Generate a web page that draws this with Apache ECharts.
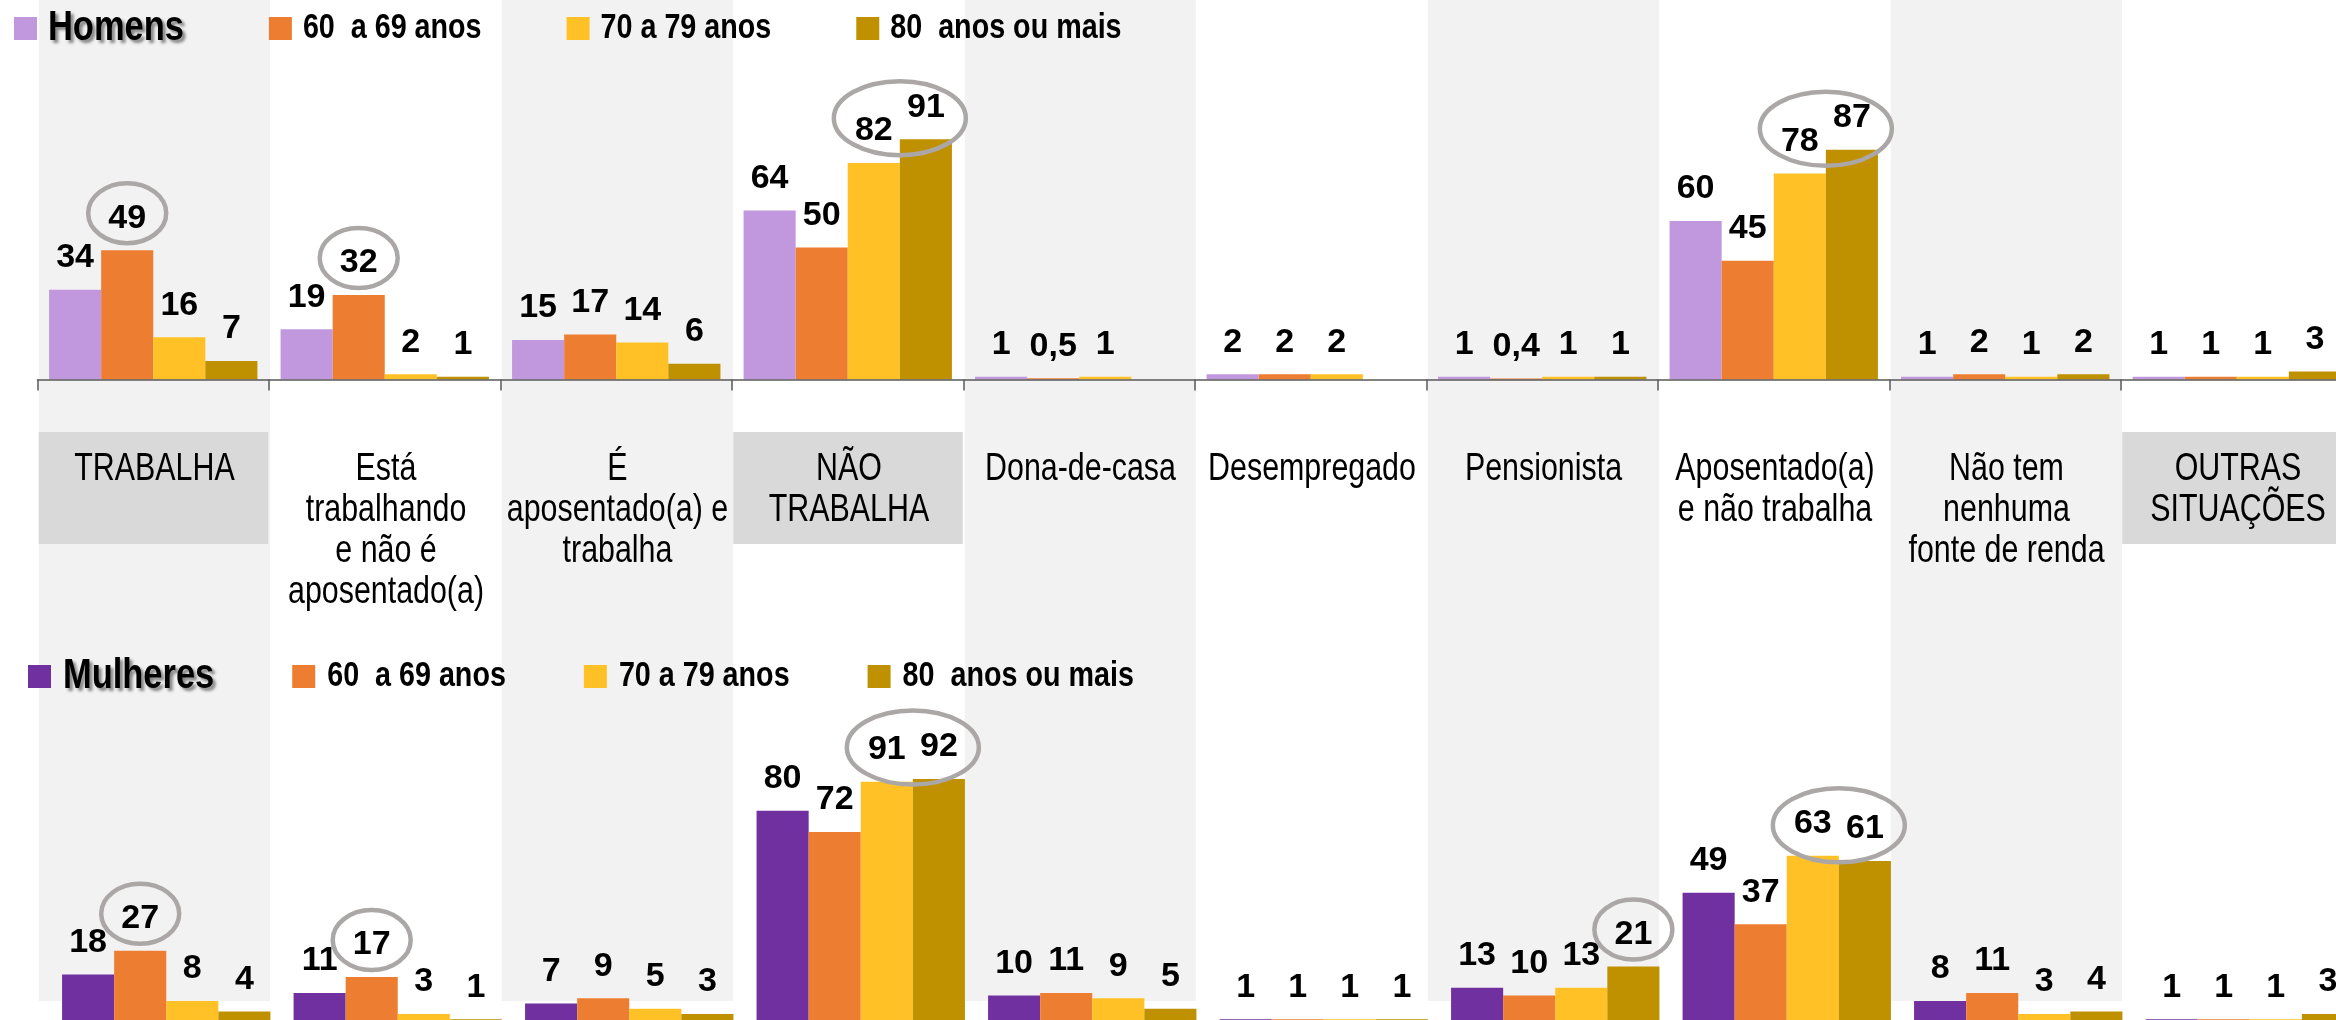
<!DOCTYPE html>
<html>
<head>
<meta charset="utf-8">
<title>Situação de trabalho por sexo e idade</title>
<script src="https://cdn.jsdelivr.net/npm/echarts@6/dist/echarts.min.js"></script>
<style>
  html, body { margin: 0; padding: 0; background: #fff; }
  #chart { width: 2336px; height: 1020px; }
</style>
</head>
<body>
<div id="chart"></div>
<script>
// categorias
const categories = [
  "TRABALHA",
  "Está\ntrabalhando\ne não é\naposentado(a)",
  "É\naposentado(a) e\ntrabalha",
  "NÃO\nTRABALHA",
  "Dona-de-casa",
  "Desempregado",
  "Pensionista",
  "Aposentado(a)\ne não trabalha",
  "Não tem\nnenhuma\nfonte de renda",
  "OUTRAS\nSITUAÇÕES"
];
const ageGroups = ["60  a 69 anos", "70 a 79 anos", "80  anos ou mais"];

// Homens (%)
const homensTotal = [34, 19, 15, 64, 1, 2, 1, 60, 1, 1];
const homens60a69 = [49, 32, 17, 50, 0.5, 2, 0.4, 45, 2, 1];
const homens70a79 = [16, 2, 14, 82, 1, 2, 1, 78, 1, 1];
const homens80mais = [7, 1, 6, 91, null, null, 1, 87, 2, 3];

// Mulheres (%)
const mulheresTotal = [18, 11, 7, 80, 10, 1, 13, 49, 8, 1];
const mulheres60a69 = [27, 17, 9, 72, 11, 1, 10, 37, 11, 1];
const mulheres70a79 = [8, 3, 5, 91, 9, 1, 13, 63, 3, 1];
const mulheres80mais = [4, 1, 3, 92, 5, 1, 21, 61, 4, 3];

// destaques (círculos): [categoria, primeira barra, última barra]
const destaquesHomens = [[0, 1, 1], [1, 1, 1], [3, 2, 3], [7, 2, 3]];
const destaquesMulheres = [[0, 1, 1], [1, 1, 1], [3, 2, 3], [6, 3, 3], [7, 2, 3]];
// categorias-resumo com fundo cinza
const categoriasResumo = [0, 3, 9];

const COLORS = ["#ed7d31", "#ffc125", "#bf9000"];
const SANS = "Liberation Sans";
// sem fonte "Narrow" instalada: texto estreitado na horizontal
const NARROW_X = 0.8;
const LEGEND_X = 0.82;

const homensData = [homensTotal, homens60a69, homens70a79, homens80mais];
const mulheresData = [mulheresTotal, mulheres60a69, mulheres70a79, mulheres80mais];

const ctx = document.createElement("canvas").getContext("2d");
const legendWidth = (text, size) => {
  ctx.font = `bold ${size}px "${SANS}"`;
  return ctx.measureText(text).width * LEGEND_X;
};

const makeBar = (name, data, color, idx) => ({
  name,
  type: "bar",
  xAxisIndex: idx,
  yAxisIndex: idx,
  data,
  barGap: "0%",
  barCategoryGap: "10%",
  itemStyle: { color },
  z: 2,
  label: {
    show: true,
    position: "top",
    distance: 15,
    color: "#000",
    fontFamily: SANS,
    fontWeight: "bold",
    fontSize: 34,
    formatter: p => String(p.value).replace(".", ",")
  }
});

const makeRings = (items, seriesData, idx) => ({
  type: "custom",
  xAxisIndex: idx,
  yAxisIndex: idx,
  z: 6,
  silent: true,
  clip: false,
  data: items,
  renderItem: (params, api) => {
    const cat = api.value(0);
    const b0 = api.value(1);
    const b1 = api.value(2);
    const bw = api.size([1, 0])[0] * 0.9 / 4;
    const cx = api.coord([cat, 0])[0] + ((b0 + b1) / 2 - 1.5) * bw;
    const y0 = api.coord([cat, seriesData[b0][cat]])[1];
    const y1 = api.coord([cat, seriesData[b1][cat]])[1];
    const dbl = b1 > b0;
    return {
      type: "ellipse",
      shape: {
        cx,
        cy: (y0 + y1) / 2 - (dbl ? 33 : 37),
        rx: dbl ? 66 : 39,
        ry: dbl ? 37 : 30
      },
      style: { fill: "none", stroke: "#aba7a7", lineWidth: 4.5 }
    };
  }
});

// legenda desenhada como texto estreito
const makeLegend = (entries, left, cy, textGap, itemGap) => {
  const children = [];
  let x = left;
  entries.forEach(([name, color], i) => {
    const size = i === 0 ? 42 : 35;
    children.push({
      type: "rect",
      z: 10,
      shape: { x, y: cy - 11.5, width: 23, height: 23 },
      style: { fill: color }
    });
    const tx = x + 23 + textGap;
    const style = {
      text: name,
      fill: "#000",
      fontFamily: SANS,
      fontWeight: "bold",
      fontSize: size,
      verticalAlign: "middle",
      textVerticalAlign: "middle"
    };
    if (i === 0) {
      Object.assign(style, {
        textShadowColor: "rgba(0,0,0,0.45)",
        textShadowBlur: 3,
        textShadowOffsetX: 3,
        textShadowOffsetY: 3
      });
    }
    children.push({ type: "text", z: 10, x: tx, y: cy, scaleX: LEGEND_X, scaleY: 1, style });
    x = tx + legendWidth(name, size) + itemGap;
  });
  return { type: "group", silent: true, z: 10, children };
};

const chart = echarts.init(document.getElementById("chart"));
chart.setOption({
  animation: false,
  backgroundColor: "#fff",
  graphic: [
    makeLegend([["Homens", "#c197de"], ...ageGroups.map((g, i) => [g, COLORS[i]])], 14, 28.5, 11, 85),
    makeLegend([["Mulheres", "#7030a0"], ...ageGroups.map((g, i) => [g, COLORS[i]])], 28, 676.5, 12, 78)
  ],
  grid: [
    { left: 37.5, top: 115.5, width: 2315, height: 264, outerBoundsMode: "none" },
    { left: 50.5, top: 758, width: 2315, height: 264, outerBoundsMode: "none" },
    { left: 38.75, top: 0, width: 2315, height: 1001, outerBoundsMode: "none" }
  ],
  xAxis: [
    {
      type: "category",
      gridIndex: 0,
      data: categories,
      z: 4,
      axisLine: { lineStyle: { color: "#595959", width: 1.5 } },
      axisTick: { show: true, length: 11, lineStyle: { color: "#595959", width: 1.5 } },
      splitLine: { show: false },
      axisLabel: { show: false }
    },
    { type: "category", gridIndex: 1, data: categories, show: false },
    {
      type: "category",
      gridIndex: 2,
      data: categories,
      z: 0,
      axisLine: { show: false },
      axisTick: { show: false },
      axisLabel: { show: false },
      splitLine: { show: false },
      splitArea: { show: true, interval: 0, areaStyle: { color: ["#f2f2f2", "#ffffff"] } }
    }
  ],
  yAxis: [
    { type: "value", gridIndex: 0, min: 0, max: 100, show: false },
    { type: "value", gridIndex: 1, min: 0, max: 100, show: false },
    { type: "value", gridIndex: 2, min: 0, max: 1, show: false }
  ],
  series: [
    // fundo cinza dos rótulos-resumo
    {
      type: "custom",
      xAxisIndex: 2,
      yAxisIndex: 2,
      z: 1,
      silent: true,
      clip: false,
      data: categoriasResumo.map(i => [i, 0]),
      renderItem: (params, api) => {
        const band = api.size([1, 0])[0];
        const x = api.coord([api.value(0), 0])[0] - band / 2;
        return {
          type: "rect",
          shape: { x, y: 432, width: band - 2, height: 112 },
          style: { fill: "#d9d9d9" }
        };
      }
    },
    // rótulos das categorias
    {
      type: "custom",
      xAxisIndex: 2,
      yAxisIndex: 2,
      z: 3,
      silent: true,
      clip: false,
      data: categories.map((c, i) => [i, 0]),
      renderItem: (params, api) => ({
        type: "text",
        x: api.coord([api.value(0), 0])[0],
        y: 449.5,
        scaleX: NARROW_X,
        style: {
          text: categories[params.dataIndex],
          fill: "#000",
          fontFamily: SANS,
          fontSize: 38,
          lineHeight: 41,
          align: "center",
          textAlign: "center",
          verticalAlign: "top",
          textVerticalAlign: "top"
        }
      })
    },
    makeBar("Homens", homensTotal, "#c197de", 0),
    ...ageGroups.map((g, i) => makeBar(g, homensData[i + 1], COLORS[i], 0)),
    makeBar("Mulheres", mulheresTotal, "#7030a0", 1),
    ...ageGroups.map((g, i) => makeBar(g, mulheresData[i + 1], COLORS[i], 1)),
    makeRings(destaquesHomens, homensData, 0),
    makeRings(destaquesMulheres, mulheresData, 1)
  ]
});
</script>
</body>
</html>
